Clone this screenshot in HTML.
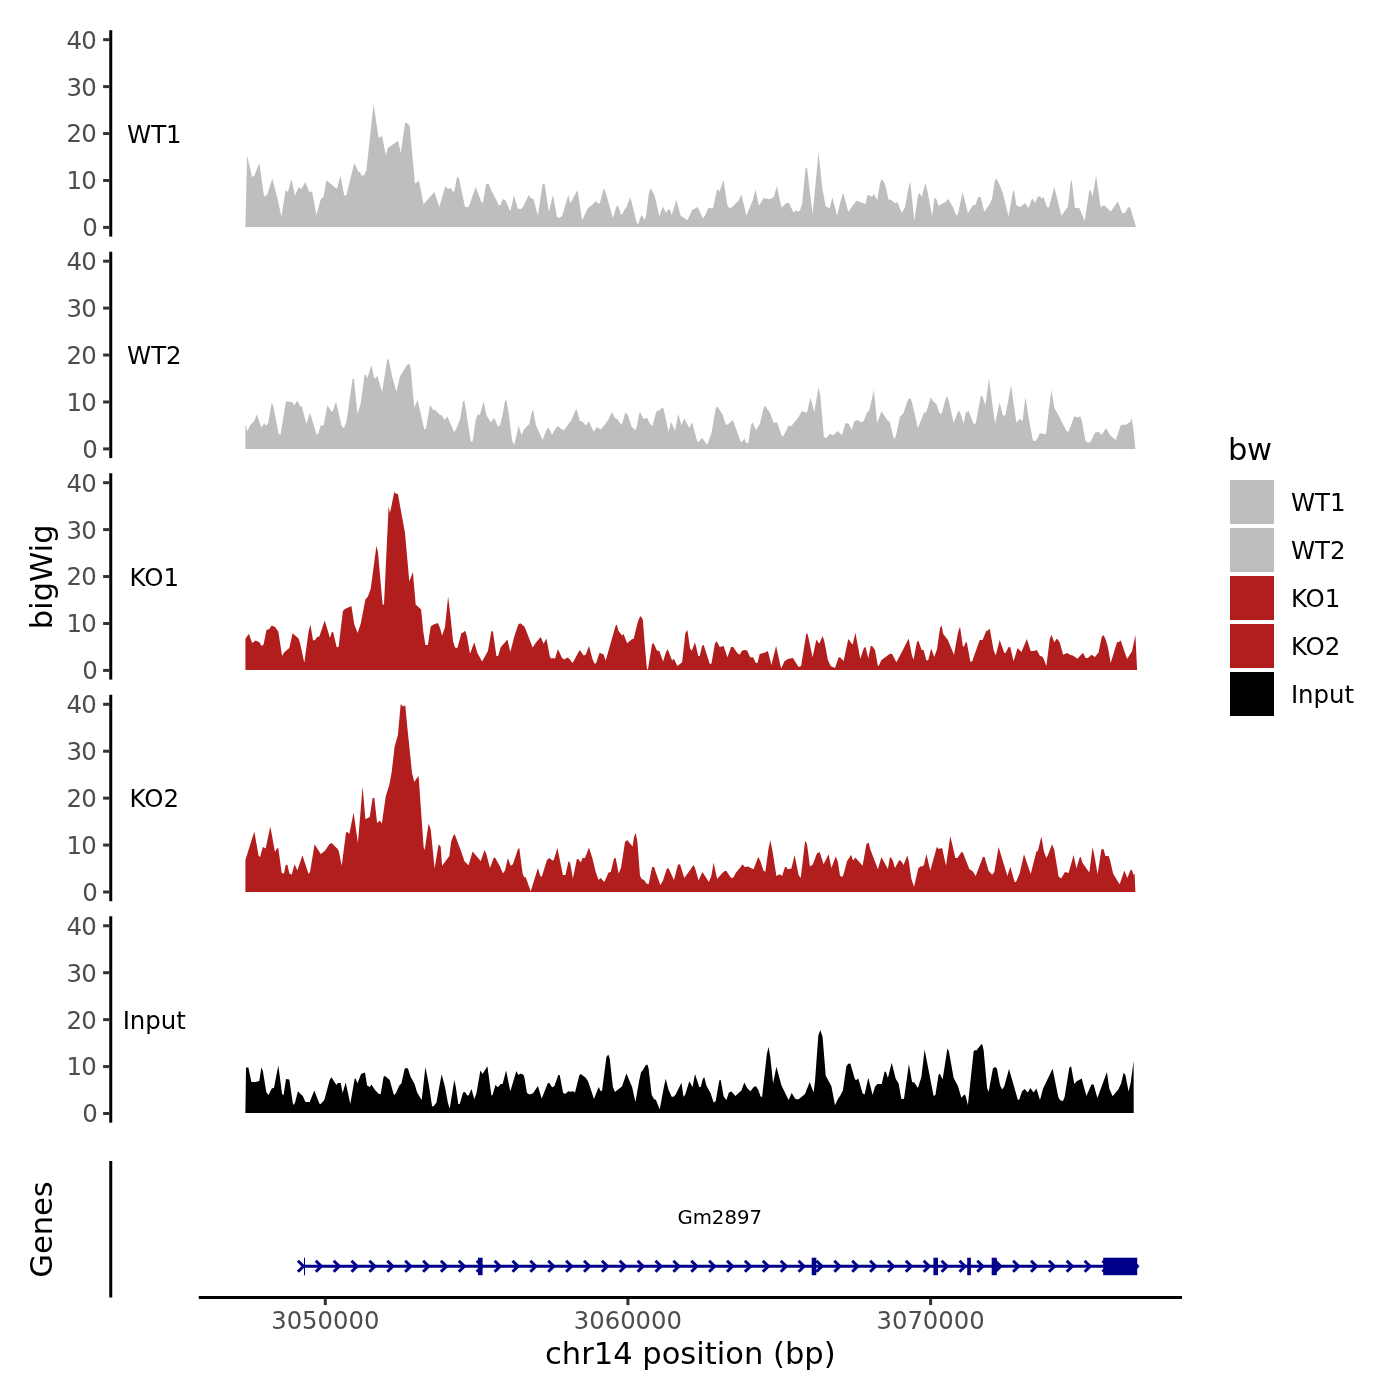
<!DOCTYPE html>
<html lang="en"><head><meta charset="utf-8"><title>bigWig coverage tracks</title>
<style>html,body{margin:0;padding:0;background:#fff}body{width:1400px;height:1400px;overflow:hidden}svg{display:block;will-change:transform;transform:translateZ(0)}text{font-family:'DejaVu Sans','Liberation Sans',sans-serif}</style></head><body>
<svg width="1400" height="1400" viewBox="0 0 1400 1400">
<rect width="1400" height="1400" fill="#fff"/>
<path d="M245.4,226.9 L247.1,155.4 L252.1,177.1 L254.3,175.7 L259.3,162.9 L264.0,196.4 L267.1,195.0 L272.3,178.6 L277.9,200.0 L281.4,217.1 L285.7,190.0 L287.9,192.1 L291.4,178.9 L295.0,195.7 L298.6,187.1 L301.4,188.9 L305.3,182.1 L309.3,192.1 L312.1,191.4 L316.4,215.0 L320.7,199.3 L323.6,196.4 L326.4,180.3 L335.7,187.9 L337.1,188.6 L340.4,175.7 L344.3,195.7 L346.4,195.0 L354.3,162.9 L358.6,172.1 L360.0,171.9 L361.7,175.7 L364.3,175.0 L366.4,170.0 L373.6,103.9 L378.6,137.9 L382.1,136.0 L385.7,155.0 L387.9,147.9 L398.1,140.7 L400.7,152.9 L405.3,122.1 L409.6,125.4 L415.0,183.6 L419.0,181.0 L423.6,204.3 L434.3,192.1 L439.3,207.1 L445.4,186.0 L447.9,188.9 L450.7,187.9 L452.9,191.7 L454.3,191.4 L457.1,176.4 L459.0,178.6 L465.0,206.9 L468.6,206.9 L475.7,187.1 L481.4,202.1 L482.9,202.9 L486.1,184.0 L488.6,184.0 L492.1,192.1 L493.6,194.3 L498.6,205.0 L500.7,205.0 L502.4,199.3 L505.3,200.0 L510.3,211.4 L513.9,195.7 L517.9,208.6 L520.7,209.3 L522.9,207.1 L528.6,195.3 L531.4,198.6 L533.6,199.3 L537.9,215.7 L542.6,183.6 L544.7,184.6 L548.9,212.1 L552.9,195.0 L557.1,217.1 L559.3,217.9 L562.1,216.0 L568.3,195.0 L570.3,203.6 L576.9,191.1 L577.9,192.1 L582.1,220.3 L587.9,207.9 L591.4,205.4 L596.0,201.1 L597.9,203.6 L599.7,203.6 L604.0,187.9 L606.4,195.0 L612.9,217.9 L616.7,206.0 L618.6,206.4 L620.7,214.3 L622.1,214.6 L625.0,208.6 L626.1,208.3 L630.3,197.1 L636.9,223.6 L638.6,223.6 L640.0,217.9 L641.7,215.0 L644.6,220.0 L646.0,215.7 L648.9,192.9 L650.4,188.6 L651.7,190.0 L654.3,195.0 L656.4,202.9 L659.3,216.4 L662.9,206.4 L666.0,212.9 L668.6,209.3 L669.7,209.3 L671.7,215.0 L676.4,200.0 L680.7,215.7 L684.3,217.9 L687.4,220.3 L692.1,210.0 L695.0,208.6 L697.6,206.9 L702.9,218.3 L705.0,215.7 L708.3,207.9 L713.1,208.3 L716.9,190.0 L718.3,189.7 L719.3,192.1 L723.6,180.3 L727.1,204.3 L729.3,208.6 L732.1,207.1 L735.0,204.3 L738.6,200.7 L741.4,194.3 L746.4,215.7 L752.9,200.0 L755.4,189.3 L758.9,205.7 L763.6,197.9 L765.7,198.6 L769.3,199.3 L771.4,198.6 L774.0,196.4 L776.9,186.0 L781.4,207.4 L783.6,205.7 L786.4,203.1 L788.9,202.9 L793.6,212.6 L796.0,210.3 L797.9,211.4 L799.7,211.1 L802.1,204.3 L805.7,167.1 L807.1,168.6 L812.6,214.3 L818.6,152.1 L822.1,187.1 L825.7,206.4 L829.7,208.3 L832.4,197.4 L837.1,215.7 L840.0,203.6 L843.1,192.6 L848.3,211.7 L852.9,205.4 L856.4,200.7 L865.4,204.0 L867.6,195.0 L870.0,195.4 L872.1,196.9 L873.6,194.0 L877.4,200.0 L880.0,182.9 L881.9,178.9 L885.0,184.0 L888.6,199.7 L891.1,199.7 L895.0,203.6 L897.1,201.7 L901.9,212.9 L905.0,207.1 L908.3,188.6 L910.3,182.1 L914.3,220.7 L917.9,195.4 L919.7,193.1 L921.7,196.9 L925.4,183.1 L927.9,192.9 L932.1,216.4 L934.3,198.6 L936.0,198.3 L938.6,206.0 L940.7,204.6 L945.7,201.7 L948.3,198.9 L952.9,207.1 L956.0,215.0 L957.9,214.3 L962.6,192.1 L967.9,212.9 L972.9,205.0 L975.0,205.4 L978.3,197.1 L980.7,197.1 L984.3,211.7 L990.0,203.6 L992.1,198.6 L994.6,181.4 L996.4,178.6 L1000.0,185.7 L1002.9,193.6 L1008.6,216.4 L1012.9,191.7 L1014.0,190.3 L1016.4,205.4 L1020.7,206.9 L1025.0,203.1 L1028.6,207.9 L1032.1,198.3 L1035.0,202.9 L1037.9,196.4 L1040.0,196.4 L1041.7,198.6 L1043.6,197.1 L1046.9,207.1 L1048.9,207.4 L1054.3,186.9 L1061.4,215.7 L1067.9,206.4 L1070.7,181.4 L1071.7,180.0 L1075.0,207.9 L1079.3,207.9 L1084.7,220.7 L1089.3,190.7 L1090.7,190.3 L1092.6,196.4 L1096.1,175.4 L1100.7,207.4 L1104.0,205.0 L1110.7,211.4 L1117.9,201.4 L1122.1,212.9 L1125.0,213.1 L1128.3,207.1 L1130.3,207.9 L1136.0,226.9Z" fill="#BEBEBE"/>
<line x1="110.75" x2="110.75" y1="30.2" y2="236.6" stroke="#000" stroke-width="3"/>
<line x1="103.11" x2="109.35" y1="227.40" y2="227.40" stroke="#333" stroke-width="3"/>
<text x="97.0" y="235.85" font-size="24.44" fill="#4D4D4D" text-anchor="end" letter-spacing="-0.7">0</text>
<line x1="103.11" x2="109.35" y1="180.47" y2="180.47" stroke="#333" stroke-width="3"/>
<text x="96.2" y="188.85" font-size="24.44" fill="#4D4D4D" text-anchor="end" letter-spacing="-0.7">10</text>
<line x1="103.11" x2="109.35" y1="133.54" y2="133.54" stroke="#333" stroke-width="3"/>
<text x="96.2" y="141.85" font-size="24.44" fill="#4D4D4D" text-anchor="end" letter-spacing="-0.7">20</text>
<line x1="103.11" x2="109.35" y1="86.61" y2="86.61" stroke="#333" stroke-width="3"/>
<text x="96.2" y="95.85" font-size="24.44" fill="#4D4D4D" text-anchor="end" letter-spacing="-0.7">30</text>
<line x1="103.11" x2="109.35" y1="39.68" y2="39.68" stroke="#333" stroke-width="3"/>
<text x="96.2" y="48.85" font-size="24.44" fill="#4D4D4D" text-anchor="end" letter-spacing="-0.7">40</text>
<text x="154.3" y="142.60" font-size="24.44" fill="#000" text-anchor="middle">WT1</text>
<path d="M245.4,448.9 L245.4,424.1 L247.4,431.3 L250.3,424.9 L254.0,421.3 L256.9,414.6 L261.4,427.7 L264.3,423.1 L265.7,425.6 L267.9,424.1 L271.7,402.7 L273.1,405.6 L278.6,433.4 L280.4,434.9 L286.0,401.3 L292.6,402.3 L294.0,405.6 L297.4,400.6 L300.3,406.6 L301.7,406.0 L306.4,424.1 L310.0,412.7 L316.4,434.1 L317.9,434.6 L320.7,425.6 L323.6,425.6 L327.4,405.6 L331.4,411.3 L332.6,411.7 L336.0,401.7 L341.7,426.3 L344.0,428.0 L346.4,422.0 L352.6,379.1 L354.0,378.9 L357.4,414.1 L360.7,403.4 L364.6,374.9 L366.0,374.6 L367.4,378.4 L371.4,365.1 L374.3,379.1 L377.4,376.0 L382.1,392.0 L387.1,359.9 L388.6,359.1 L392.1,376.3 L396.4,391.7 L400.0,376.3 L407.4,364.6 L409.6,363.7 L410.7,368.4 L414.3,407.4 L417.6,399.9 L424.3,429.4 L426.0,428.4 L430.0,404.9 L433.6,410.6 L434.6,409.4 L440.0,415.1 L441.4,415.1 L444.6,419.9 L447.4,416.6 L454.0,432.0 L455.7,429.9 L460.0,419.4 L463.1,401.3 L464.3,400.6 L466.0,410.6 L470.7,441.3 L472.6,441.7 L475.7,419.9 L477.9,413.7 L479.7,415.6 L483.6,401.3 L486.4,415.1 L490.7,422.3 L494.3,418.0 L497.9,426.6 L500.0,425.6 L502.4,415.6 L505.0,400.9 L506.4,400.3 L508.3,410.6 L512.1,440.6 L514.3,444.9 L518.6,425.6 L521.4,434.9 L524.3,429.1 L529.3,424.1 L532.1,410.6 L533.1,410.3 L536.0,425.6 L542.6,439.9 L546.4,429.9 L548.6,427.4 L552.1,434.9 L554.3,430.6 L557.9,425.9 L560.7,428.4 L564.0,430.3 L571.4,419.9 L576.4,408.4 L580.0,421.3 L581.7,420.9 L586.0,425.6 L588.9,421.3 L593.6,431.7 L597.1,427.0 L600.7,429.4 L605.7,423.4 L608.6,419.1 L612.1,412.0 L614.6,417.7 L617.1,419.1 L621.7,425.1 L625.4,412.3 L627.9,415.1 L631.4,426.3 L635.0,430.3 L636.4,428.0 L639.3,413.7 L640.0,411.7 L643.6,419.1 L646.9,417.7 L650.7,425.1 L652.6,425.6 L656.4,411.3 L659.3,410.6 L661.4,408.4 L663.3,407.7 L668.6,431.7 L671.1,421.7 L675.0,430.6 L678.3,414.1 L681.4,424.9 L684.3,418.4 L689.3,428.0 L692.1,422.3 L697.1,440.9 L698.6,442.0 L702.1,437.7 L707.1,445.1 L711.4,433.4 L715.7,408.4 L717.4,406.6 L722.1,413.7 L726.0,424.9 L728.3,424.1 L732.9,419.9 L737.1,431.7 L740.7,442.0 L742.1,441.7 L744.3,438.4 L746.4,443.1 L748.3,443.1 L751.1,424.9 L752.6,422.3 L756.0,430.3 L760.0,423.4 L763.1,409.9 L764.7,405.6 L770.0,412.7 L773.6,422.7 L777.1,422.3 L781.4,435.1 L783.1,436.6 L788.6,425.6 L791.1,426.3 L797.9,418.0 L802.1,410.9 L806.9,412.7 L810.4,397.7 L814.3,412.0 L818.6,387.0 L820.3,395.6 L823.9,437.0 L826.4,438.0 L829.7,434.1 L833.6,435.1 L837.9,430.9 L840.0,433.4 L842.1,434.9 L845.4,423.1 L848.9,423.7 L851.7,429.9 L854.3,421.3 L857.9,419.9 L860.7,422.0 L863.6,421.3 L867.1,412.3 L869.3,410.6 L873.9,389.9 L877.1,423.1 L881.4,411.3 L887.9,420.9 L889.7,421.7 L894.0,439.4 L896.0,435.6 L900.0,416.6 L903.1,413.7 L908.3,399.1 L910.7,398.4 L912.6,404.9 L917.9,428.0 L924.3,412.0 L926.0,412.7 L930.7,397.4 L932.9,400.9 L936.4,404.1 L939.3,412.7 L941.7,413.7 L945.7,398.4 L947.4,396.3 L949.3,402.7 L953.6,422.7 L958.6,410.3 L960.7,414.1 L963.6,424.1 L965.7,412.7 L968.6,410.9 L973.6,424.1 L975.7,423.4 L980.7,396.3 L982.1,395.6 L985.4,405.6 L989.0,378.4 L995.0,424.1 L999.6,402.3 L1002.9,415.6 L1005.4,415.6 L1011.0,385.6 L1016.4,422.7 L1019.7,419.1 L1022.6,420.9 L1025.4,397.0 L1028.6,417.4 L1032.9,440.6 L1035.0,441.3 L1037.1,439.1 L1040.0,433.1 L1042.9,434.1 L1046.0,434.1 L1048.9,409.1 L1051.4,389.9 L1054.3,407.7 L1058.6,415.6 L1066.4,430.9 L1068.6,431.7 L1074.3,416.3 L1077.4,417.4 L1080.4,416.3 L1082.1,422.0 L1085.4,440.6 L1087.9,442.7 L1090.7,441.7 L1095.0,432.7 L1098.6,431.7 L1101.7,434.9 L1106.0,428.0 L1110.0,434.9 L1115.7,439.9 L1120.7,425.6 L1122.9,424.6 L1125.7,425.1 L1128.6,422.7 L1130.3,422.3 L1131.7,418.0 L1133.6,430.6 L1135.4,448.9Z" fill="#BEBEBE"/>
<line x1="110.75" x2="110.75" y1="251.7" y2="458.1" stroke="#000" stroke-width="3"/>
<line x1="103.11" x2="109.35" y1="448.90" y2="448.90" stroke="#333" stroke-width="3"/>
<text x="97.0" y="457.85" font-size="24.44" fill="#4D4D4D" text-anchor="end" letter-spacing="-0.7">0</text>
<line x1="103.11" x2="109.35" y1="401.97" y2="401.97" stroke="#333" stroke-width="3"/>
<text x="96.2" y="410.85" font-size="24.44" fill="#4D4D4D" text-anchor="end" letter-spacing="-0.7">10</text>
<line x1="103.11" x2="109.35" y1="355.04" y2="355.04" stroke="#333" stroke-width="3"/>
<text x="96.2" y="363.85" font-size="24.44" fill="#4D4D4D" text-anchor="end" letter-spacing="-0.7">20</text>
<line x1="103.11" x2="109.35" y1="308.11" y2="308.11" stroke="#333" stroke-width="3"/>
<text x="96.2" y="316.85" font-size="24.44" fill="#4D4D4D" text-anchor="end" letter-spacing="-0.7">30</text>
<line x1="103.11" x2="109.35" y1="261.18" y2="261.18" stroke="#333" stroke-width="3"/>
<text x="96.2" y="269.85" font-size="24.44" fill="#4D4D4D" text-anchor="end" letter-spacing="-0.7">40</text>
<text x="154.3" y="364.10" font-size="24.44" fill="#000" text-anchor="middle">WT2</text>
<path d="M245.4,670.1 L245.4,638.7 L248.9,633.7 L252.1,643.0 L255.7,640.6 L259.3,642.3 L261.7,645.9 L263.6,644.4 L266.4,630.1 L269.3,629.0 L271.7,625.4 L275.0,627.0 L278.3,631.6 L282.1,655.9 L284.3,652.3 L289.3,648.0 L292.6,633.3 L298.6,638.4 L300.0,643.0 L304.3,662.7 L308.6,631.6 L310.4,624.4 L313.1,640.4 L315.0,639.9 L317.1,637.0 L319.3,636.6 L324.7,620.4 L330.0,638.0 L331.7,632.3 L333.1,632.0 L336.7,647.3 L338.6,647.0 L342.9,610.9 L345.0,609.0 L351.4,605.9 L354.3,624.4 L357.6,633.0 L360.7,623.7 L365.4,599.4 L367.9,596.6 L370.7,588.7 L376.4,546.1 L377.9,551.6 L382.6,604.4 L384.0,604.4 L388.6,506.6 L390.0,513.0 L394.3,491.9 L396.0,493.7 L397.9,494.1 L405.0,533.0 L409.3,581.6 L412.9,571.9 L415.7,604.4 L421.1,609.4 L423.3,631.6 L425.4,645.1 L427.9,645.1 L430.7,626.6 L433.6,624.4 L437.9,623.0 L440.0,628.0 L442.1,635.6 L445.0,627.3 L448.1,596.6 L450.3,614.4 L453.1,641.6 L455.0,647.6 L457.4,648.0 L461.4,633.3 L463.6,632.3 L465.0,630.4 L466.9,635.9 L470.0,653.7 L474.3,642.3 L477.4,653.0 L482.1,661.6 L487.9,650.9 L491.4,631.3 L492.9,631.3 L496.4,656.1 L498.1,655.9 L500.7,647.3 L507.4,639.4 L510.3,651.9 L514.3,636.6 L518.3,624.4 L520.3,623.3 L524.3,626.6 L525.7,629.4 L532.6,647.6 L536.4,641.9 L540.7,637.0 L543.6,643.7 L546.4,638.4 L550.0,657.3 L551.7,658.4 L553.6,658.0 L555.0,658.7 L557.9,649.0 L562.1,658.0 L564.3,659.4 L567.4,657.6 L569.3,658.7 L572.6,663.0 L579.7,649.9 L583.6,655.6 L585.7,654.7 L589.0,645.9 L592.6,659.4 L594.6,663.7 L596.0,663.3 L599.6,652.7 L603.6,654.4 L605.7,660.4 L615.4,626.6 L616.7,624.4 L618.6,630.9 L622.1,635.6 L623.6,634.1 L627.1,643.3 L632.1,639.0 L633.6,639.0 L637.9,621.6 L640.0,616.6 L641.1,616.6 L642.9,620.1 L645.0,647.3 L646.9,668.7 L647.9,669.4 L652.1,644.1 L653.6,643.3 L656.9,650.4 L659.3,650.9 L663.1,661.6 L665.7,653.0 L667.6,649.0 L672.1,660.4 L673.9,658.7 L677.4,665.9 L682.1,662.3 L685.4,633.0 L687.4,630.1 L690.0,648.0 L691.7,650.9 L695.0,642.3 L698.3,655.9 L699.7,656.1 L702.1,645.9 L703.6,644.7 L709.7,663.7 L711.4,663.7 L715.0,643.3 L716.7,641.3 L719.7,647.0 L723.6,646.1 L727.4,657.3 L731.1,647.0 L733.1,647.0 L737.9,653.7 L740.0,654.4 L741.7,650.9 L744.3,649.9 L747.1,650.4 L750.3,657.6 L753.1,657.3 L755.7,662.7 L757.4,663.3 L759.7,654.1 L765.7,652.3 L767.9,650.9 L771.4,665.1 L776.1,645.9 L781.1,668.4 L784.6,660.9 L788.6,658.7 L792.9,658.0 L798.6,667.0 L801.1,665.9 L806.4,633.0 L807.9,635.1 L812.6,657.3 L816.4,639.4 L819.3,643.7 L822.6,635.9 L824.3,640.9 L827.9,660.1 L830.7,666.1 L835.0,668.0 L838.6,657.6 L840.0,657.3 L843.6,660.9 L848.3,639.0 L852.6,644.7 L855.4,632.7 L860.3,658.7 L863.6,648.7 L865.4,646.6 L868.3,658.4 L870.7,645.9 L872.1,646.1 L875.0,650.1 L877.9,666.1 L878.9,665.6 L881.4,659.9 L890.0,653.7 L892.1,654.1 L896.4,662.3 L902.9,650.1 L908.6,638.4 L912.1,655.9 L913.6,659.4 L916.9,642.3 L918.3,640.4 L921.7,650.1 L923.6,650.1 L926.4,660.4 L928.3,659.9 L931.1,648.4 L934.3,657.0 L937.1,648.7 L940.0,628.0 L941.7,625.6 L943.1,633.7 L947.9,639.9 L954.0,654.7 L957.9,633.0 L960.0,626.6 L962.9,646.6 L964.0,646.6 L965.7,642.3 L966.9,642.7 L970.3,661.6 L972.1,661.6 L979.7,639.9 L982.6,639.9 L986.4,630.4 L987.4,630.9 L989.7,628.4 L993.6,650.1 L995.7,655.6 L999.7,640.1 L1004.3,653.0 L1005.7,652.7 L1008.6,647.0 L1010.3,647.3 L1013.6,661.3 L1017.6,648.0 L1021.4,651.9 L1026.9,639.0 L1030.7,650.9 L1033.6,650.9 L1036.9,649.9 L1040.0,655.9 L1042.1,656.6 L1043.6,658.7 L1046.4,665.9 L1049.7,639.4 L1051.4,634.7 L1054.3,642.3 L1056.9,638.4 L1059.7,642.3 L1063.1,654.7 L1067.1,653.0 L1070.7,655.1 L1072.9,655.6 L1077.4,658.7 L1082.9,652.7 L1085.7,658.0 L1087.9,658.0 L1091.4,654.7 L1095.0,657.0 L1098.6,652.3 L1101.7,637.0 L1103.6,635.1 L1105.7,639.4 L1107.9,647.3 L1110.7,663.0 L1117.1,641.9 L1118.6,642.3 L1120.7,640.4 L1127.1,659.0 L1132.1,650.9 L1135.4,635.1 L1137.1,670.1Z" fill="#B21E1E"/>
<line x1="110.75" x2="110.75" y1="473.2" y2="679.6" stroke="#000" stroke-width="3"/>
<line x1="103.11" x2="109.35" y1="670.40" y2="670.40" stroke="#333" stroke-width="3"/>
<text x="97.0" y="678.85" font-size="24.44" fill="#4D4D4D" text-anchor="end" letter-spacing="-0.7">0</text>
<line x1="103.11" x2="109.35" y1="623.47" y2="623.47" stroke="#333" stroke-width="3"/>
<text x="96.2" y="631.85" font-size="24.44" fill="#4D4D4D" text-anchor="end" letter-spacing="-0.7">10</text>
<line x1="103.11" x2="109.35" y1="576.54" y2="576.54" stroke="#333" stroke-width="3"/>
<text x="96.2" y="584.85" font-size="24.44" fill="#4D4D4D" text-anchor="end" letter-spacing="-0.7">20</text>
<line x1="103.11" x2="109.35" y1="529.61" y2="529.61" stroke="#333" stroke-width="3"/>
<text x="96.2" y="538.85" font-size="24.44" fill="#4D4D4D" text-anchor="end" letter-spacing="-0.7">30</text>
<line x1="103.11" x2="109.35" y1="482.68" y2="482.68" stroke="#333" stroke-width="3"/>
<text x="96.2" y="491.85" font-size="24.44" fill="#4D4D4D" text-anchor="end" letter-spacing="-0.7">40</text>
<text x="154.3" y="585.60" font-size="24.44" fill="#000" text-anchor="middle">KO1</text>
<path d="M245.4,891.9 L245.4,860.0 L254.3,831.4 L258.6,855.7 L260.0,857.1 L262.9,847.1 L265.7,848.6 L270.3,826.4 L275.0,852.1 L276.9,848.6 L278.3,848.1 L281.7,872.9 L284.0,873.6 L285.7,865.0 L287.4,864.7 L289.3,873.3 L291.7,874.7 L294.6,864.3 L297.4,870.4 L302.4,855.3 L308.6,873.9 L310.0,872.1 L314.6,844.3 L320.7,853.9 L325.0,850.7 L329.3,844.3 L331.7,842.9 L337.9,849.3 L338.9,851.4 L341.7,865.7 L346.0,832.4 L347.4,831.9 L349.3,833.9 L353.6,812.4 L357.9,842.9 L362.6,786.4 L365.4,819.3 L369.7,817.1 L372.6,798.1 L374.3,797.9 L377.1,822.9 L379.7,820.4 L381.9,823.6 L385.7,796.4 L389.3,785.0 L391.7,772.1 L394.6,746.4 L397.9,735.0 L400.7,704.3 L403.3,706.4 L405.3,705.3 L407.1,725.0 L412.1,773.6 L414.3,781.9 L416.0,779.3 L418.6,776.1 L423.6,847.1 L424.7,850.0 L428.6,823.6 L430.7,829.3 L434.6,868.6 L438.6,844.3 L440.0,845.7 L440.7,847.1 L442.1,865.7 L449.3,856.1 L451.1,842.1 L452.9,836.4 L454.6,834.0 L461.4,852.1 L464.6,861.4 L468.6,865.3 L472.6,851.4 L480.7,861.0 L484.6,850.0 L486.4,854.3 L490.0,868.1 L493.6,857.9 L495.0,857.6 L500.0,866.4 L502.9,873.6 L505.0,870.4 L507.9,858.1 L510.7,865.7 L512.9,864.3 L517.9,849.3 L519.3,847.9 L522.6,873.3 L524.3,877.6 L525.7,877.1 L530.7,891.4 L537.9,868.1 L540.7,877.1 L542.1,876.1 L546.9,860.0 L549.3,858.1 L552.9,860.7 L554.0,859.3 L557.4,848.1 L562.9,875.0 L565.4,875.0 L568.6,861.0 L570.3,863.6 L572.9,878.6 L576.9,859.0 L578.3,859.0 L580.7,862.4 L582.6,858.1 L585.0,858.1 L589.0,847.6 L592.6,859.0 L595.7,871.9 L598.6,880.0 L600.7,878.1 L604.3,882.1 L608.6,872.4 L610.7,872.1 L614.0,858.6 L615.7,858.1 L618.6,873.6 L621.1,867.6 L625.0,842.1 L627.1,840.0 L632.6,846.4 L634.0,837.1 L635.7,832.9 L637.4,842.1 L640.0,875.7 L641.7,879.0 L644.0,880.0 L646.4,883.6 L648.6,884.3 L652.1,867.1 L654.0,867.1 L660.4,885.3 L662.9,880.7 L666.9,868.6 L668.6,868.6 L674.0,880.0 L677.9,864.7 L680.0,864.3 L684.3,878.1 L687.9,872.9 L693.6,865.0 L695.0,867.9 L698.6,880.4 L702.4,871.9 L708.9,881.9 L711.4,875.7 L713.6,862.4 L717.1,879.0 L722.1,873.3 L725.0,870.7 L726.4,871.0 L730.7,877.6 L733.1,877.9 L735.7,872.9 L740.7,867.1 L742.6,864.3 L744.6,867.1 L748.3,866.4 L750.7,868.1 L753.6,869.3 L758.3,856.7 L760.7,862.1 L763.6,871.0 L765.4,871.4 L768.6,847.9 L770.4,840.3 L772.9,853.6 L776.4,876.1 L779.7,874.3 L782.1,876.1 L785.0,867.1 L786.4,867.1 L787.4,869.3 L791.4,868.6 L794.6,855.0 L798.6,875.0 L800.7,878.1 L805.0,842.1 L805.7,841.1 L807.1,845.0 L810.0,866.4 L812.9,864.3 L816.9,853.6 L819.7,852.1 L823.6,864.3 L828.6,854.3 L831.4,867.9 L835.7,856.4 L837.9,862.1 L840.0,875.7 L842.1,877.1 L843.6,874.3 L846.9,861.4 L851.1,854.7 L853.1,860.4 L855.4,857.6 L862.6,865.7 L866.4,844.3 L868.6,842.4 L870.3,849.3 L877.9,869.3 L881.4,857.1 L887.9,869.0 L890.0,856.7 L892.6,860.0 L895.0,868.1 L899.3,860.0 L901.4,861.4 L903.6,865.0 L907.4,855.3 L908.9,861.9 L911.4,879.0 L914.0,886.7 L918.3,868.6 L920.7,866.1 L921.7,866.7 L924.0,865.0 L926.4,853.9 L930.3,870.4 L936.9,846.7 L938.6,849.0 L942.1,847.9 L946.0,865.7 L950.3,836.1 L955.4,858.1 L957.4,858.1 L961.4,852.1 L962.9,852.4 L969.3,869.0 L972.9,871.4 L975.7,876.1 L982.9,857.1 L984.6,857.1 L988.6,870.7 L992.1,874.7 L994.3,872.1 L998.6,847.1 L1007.4,876.1 L1010.3,866.7 L1014.6,881.9 L1016.0,881.9 L1019.7,873.3 L1024.0,854.3 L1030.7,873.9 L1036.4,851.4 L1037.9,851.0 L1040.0,842.1 L1041.4,836.4 L1044.0,852.1 L1046.4,857.9 L1047.9,855.0 L1052.1,844.3 L1054.3,850.0 L1058.6,876.4 L1061.1,878.6 L1065.0,872.1 L1068.6,872.9 L1073.6,855.0 L1076.4,868.6 L1079.7,857.6 L1080.7,857.1 L1082.6,862.9 L1089.3,872.4 L1092.6,847.1 L1094.0,853.6 L1097.6,874.3 L1101.4,849.3 L1103.6,849.3 L1105.4,856.1 L1108.6,856.1 L1110.0,860.0 L1113.1,873.6 L1115.7,877.9 L1119.7,884.3 L1124.3,870.4 L1127.4,877.9 L1130.7,869.6 L1132.1,870.4 L1133.6,875.0 L1134.6,873.6 L1135.4,891.9Z" fill="#B21E1E"/>
<line x1="110.75" x2="110.75" y1="694.8" y2="901.2" stroke="#000" stroke-width="3"/>
<line x1="103.11" x2="109.35" y1="892.00" y2="892.00" stroke="#333" stroke-width="3"/>
<text x="97.0" y="900.85" font-size="24.44" fill="#4D4D4D" text-anchor="end" letter-spacing="-0.7">0</text>
<line x1="103.11" x2="109.35" y1="845.07" y2="845.07" stroke="#333" stroke-width="3"/>
<text x="96.2" y="853.85" font-size="24.44" fill="#4D4D4D" text-anchor="end" letter-spacing="-0.7">10</text>
<line x1="103.11" x2="109.35" y1="798.14" y2="798.14" stroke="#333" stroke-width="3"/>
<text x="96.2" y="806.85" font-size="24.44" fill="#4D4D4D" text-anchor="end" letter-spacing="-0.7">20</text>
<line x1="103.11" x2="109.35" y1="751.21" y2="751.21" stroke="#333" stroke-width="3"/>
<text x="96.2" y="759.85" font-size="24.44" fill="#4D4D4D" text-anchor="end" letter-spacing="-0.7">30</text>
<line x1="103.11" x2="109.35" y1="704.28" y2="704.28" stroke="#333" stroke-width="3"/>
<text x="96.2" y="712.85" font-size="24.44" fill="#4D4D4D" text-anchor="end" letter-spacing="-0.7">40</text>
<text x="154.3" y="807.20" font-size="24.44" fill="#000" text-anchor="middle">KO2</text>
<path d="M245.4,1113.0 L246.0,1067.7 L248.3,1067.3 L251.4,1082.0 L255.7,1082.0 L259.3,1081.0 L261.4,1067.3 L262.9,1071.3 L266.4,1092.4 L268.6,1094.9 L271.7,1088.4 L274.0,1087.7 L278.3,1065.6 L282.1,1094.1 L283.6,1094.9 L286.0,1079.1 L289.3,1079.6 L293.1,1104.9 L295.0,1102.7 L297.9,1091.3 L302.9,1096.3 L305.4,1102.0 L309.7,1102.0 L314.3,1090.6 L319.3,1103.4 L320.7,1103.9 L324.3,1099.9 L329.7,1079.9 L331.4,1077.3 L336.4,1084.9 L337.9,1083.0 L340.7,1083.0 L342.6,1093.0 L345.7,1082.4 L350.3,1104.1 L354.6,1079.1 L355.7,1078.4 L357.4,1083.4 L361.1,1073.9 L365.0,1072.4 L367.1,1085.6 L370.0,1087.0 L371.4,1084.4 L375.0,1090.1 L378.9,1094.1 L380.7,1093.9 L383.6,1076.7 L385.0,1075.9 L389.7,1079.9 L393.6,1093.9 L394.6,1094.9 L396.4,1092.0 L399.3,1085.6 L401.4,1083.4 L404.6,1069.1 L405.7,1068.0 L407.9,1068.4 L410.7,1077.0 L414.6,1084.1 L417.1,1092.4 L421.7,1100.1 L425.4,1067.0 L428.6,1083.4 L432.1,1106.3 L433.6,1106.3 L436.4,1102.7 L440.0,1082.7 L441.7,1074.4 L445.0,1087.0 L447.9,1102.7 L449.7,1108.7 L454.3,1080.1 L455.7,1086.3 L458.3,1103.9 L459.7,1103.9 L463.1,1092.4 L465.0,1092.0 L467.1,1095.3 L468.6,1095.6 L471.4,1089.1 L474.3,1099.1 L476.4,1093.4 L480.4,1070.6 L482.6,1073.9 L487.4,1066.3 L489.3,1079.9 L491.4,1095.6 L492.6,1094.9 L495.4,1084.9 L497.9,1087.3 L500.7,1084.1 L502.6,1083.9 L506.1,1070.6 L510.3,1091.3 L516.4,1071.0 L518.3,1074.9 L520.7,1073.4 L523.6,1074.9 L524.6,1078.4 L526.9,1092.7 L529.3,1094.4 L532.9,1093.4 L537.9,1085.9 L541.7,1098.4 L547.9,1083.0 L549.3,1083.0 L552.1,1087.3 L554.3,1086.3 L558.3,1074.9 L559.7,1074.9 L563.1,1092.7 L565.0,1093.9 L568.3,1091.3 L570.7,1091.7 L572.9,1091.3 L575.0,1092.4 L579.3,1075.6 L580.7,1074.1 L585.7,1077.7 L587.9,1081.0 L590.0,1087.0 L594.0,1099.1 L598.6,1087.0 L600.7,1091.3 L602.1,1090.6 L606.4,1057.0 L608.3,1054.4 L609.7,1058.4 L612.9,1087.0 L615.0,1092.0 L622.1,1086.3 L626.4,1073.4 L632.1,1087.0 L635.4,1102.0 L639.3,1079.9 L640.0,1077.0 L641.1,1072.0 L642.6,1070.6 L645.7,1065.3 L647.4,1064.4 L648.6,1068.4 L651.7,1094.9 L654.0,1099.1 L656.0,1100.1 L659.7,1109.6 L663.6,1088.4 L665.7,1078.7 L668.6,1089.9 L671.7,1096.7 L673.6,1096.7 L675.7,1094.4 L681.4,1082.7 L683.6,1097.0 L685.4,1094.1 L689.3,1081.3 L692.6,1087.0 L695.0,1073.9 L699.3,1087.0 L700.7,1087.0 L702.9,1078.7 L704.3,1077.3 L706.4,1085.6 L710.7,1093.4 L713.6,1102.4 L715.7,1101.3 L719.3,1080.6 L720.7,1080.1 L723.6,1096.3 L726.4,1099.9 L728.9,1092.4 L731.4,1091.6 L735.4,1095.9 L741.4,1090.6 L744.3,1082.4 L747.1,1088.1 L750.3,1091.3 L754.0,1086.7 L756.0,1086.3 L758.3,1089.9 L760.7,1096.7 L762.1,1096.7 L766.9,1053.4 L768.6,1047.0 L770.3,1057.0 L773.1,1083.4 L776.4,1066.7 L781.4,1085.3 L788.6,1100.1 L791.7,1093.0 L795.0,1098.4 L797.1,1099.6 L799.3,1098.7 L805.0,1094.1 L809.7,1082.0 L813.6,1092.4 L815.0,1081.3 L818.3,1035.6 L820.3,1030.1 L822.6,1037.0 L825.7,1075.6 L831.4,1086.3 L835.0,1105.3 L837.9,1099.1 L840.0,1095.9 L842.9,1090.6 L846.4,1066.3 L848.3,1063.7 L850.3,1063.4 L855.0,1079.6 L856.4,1080.1 L858.3,1078.4 L862.6,1093.4 L864.6,1094.4 L868.3,1077.7 L872.6,1094.9 L875.0,1086.7 L877.4,1083.9 L881.7,1083.9 L884.6,1071.6 L886.0,1072.0 L887.9,1078.1 L891.7,1062.7 L895.7,1078.7 L898.6,1083.4 L901.4,1099.1 L904.0,1098.7 L908.9,1064.1 L912.1,1082.0 L914.3,1082.4 L917.9,1088.1 L921.4,1077.0 L924.6,1049.6 L933.6,1095.9 L935.4,1094.9 L938.6,1074.4 L940.0,1073.9 L942.6,1079.6 L947.4,1048.4 L948.9,1051.3 L953.6,1077.7 L957.9,1085.9 L961.4,1097.7 L964.3,1094.4 L965.4,1095.6 L967.9,1104.9 L973.6,1051.6 L975.0,1049.9 L976.4,1050.6 L980.7,1044.9 L982.1,1043.9 L983.6,1049.9 L987.1,1088.1 L988.6,1092.0 L992.9,1068.4 L995.0,1067.0 L996.9,1068.4 L1000.0,1084.9 L1002.1,1089.6 L1004.3,1086.3 L1009.0,1069.1 L1017.9,1100.1 L1019.3,1099.6 L1022.1,1091.3 L1024.6,1089.1 L1027.9,1092.4 L1030.3,1088.1 L1033.6,1092.4 L1036.4,1088.4 L1040.0,1099.9 L1043.1,1088.4 L1052.6,1068.7 L1058.3,1097.0 L1060.0,1100.1 L1062.9,1101.3 L1064.6,1097.0 L1069.3,1067.7 L1071.1,1066.3 L1074.3,1084.1 L1076.4,1081.6 L1081.7,1078.4 L1086.4,1095.9 L1091.4,1084.4 L1093.6,1084.4 L1097.4,1098.1 L1106.9,1072.0 L1109.3,1088.4 L1112.6,1096.3 L1118.3,1089.6 L1121.1,1083.4 L1123.6,1072.7 L1125.4,1074.9 L1128.6,1091.6 L1130.7,1082.7 L1133.6,1061.0 L1133.7,1113.0Z" fill="#000000"/>
<line x1="110.75" x2="110.75" y1="916.3" y2="1122.7" stroke="#000" stroke-width="3"/>
<line x1="103.11" x2="109.35" y1="1113.50" y2="1113.50" stroke="#333" stroke-width="3"/>
<text x="97.0" y="1121.85" font-size="24.44" fill="#4D4D4D" text-anchor="end" letter-spacing="-0.7">0</text>
<line x1="103.11" x2="109.35" y1="1066.57" y2="1066.57" stroke="#333" stroke-width="3"/>
<text x="96.2" y="1074.85" font-size="24.44" fill="#4D4D4D" text-anchor="end" letter-spacing="-0.7">10</text>
<line x1="103.11" x2="109.35" y1="1019.64" y2="1019.64" stroke="#333" stroke-width="3"/>
<text x="96.2" y="1028.85" font-size="24.44" fill="#4D4D4D" text-anchor="end" letter-spacing="-0.7">20</text>
<line x1="103.11" x2="109.35" y1="972.71" y2="972.71" stroke="#333" stroke-width="3"/>
<text x="96.2" y="981.85" font-size="24.44" fill="#4D4D4D" text-anchor="end" letter-spacing="-0.7">30</text>
<line x1="103.11" x2="109.35" y1="925.78" y2="925.78" stroke="#333" stroke-width="3"/>
<text x="96.2" y="934.85" font-size="24.44" fill="#4D4D4D" text-anchor="end" letter-spacing="-0.7">40</text>
<text x="154.3" y="1028.70" font-size="24.44" fill="#000" text-anchor="middle">Input</text>
<text transform="translate(52,576.8) rotate(-90)" font-size="30.56" fill="#000" text-anchor="middle">bigWig</text>
<text transform="translate(51.8,1229.5) rotate(-90)" font-size="30.56" fill="#000" text-anchor="middle">Genes</text>
<line x1="110.75" x2="110.75" y1="1161" y2="1297.5" stroke="#000" stroke-width="3"/>
<line x1="198.75" x2="1182" y1="1297.5" y2="1297.5" stroke="#000" stroke-width="3"/>
<line x1="325.3" x2="325.3" y1="1298.9" y2="1305.1" stroke="#333" stroke-width="3"/>
<text x="325.3" y="1328.6" font-size="24.3" fill="#4D4D4D" text-anchor="middle">3050000</text>
<line x1="627.9" x2="627.9" y1="1298.9" y2="1305.1" stroke="#333" stroke-width="3"/>
<text x="627.9" y="1328.6" font-size="24.3" fill="#4D4D4D" text-anchor="middle">3060000</text>
<line x1="930.6" x2="930.6" y1="1298.9" y2="1305.1" stroke="#333" stroke-width="3"/>
<text x="930.6" y="1328.6" font-size="24.3" fill="#4D4D4D" text-anchor="middle">3070000</text>
<text x="690.3" y="1363.5" font-size="30.56" fill="#000" text-anchor="middle">chr14 position (bp)</text>
<g stroke="#00008B" fill="none">
<line x1="304.5" x2="1137.2" y1="1266.3" y2="1266.3" stroke-width="3"/>
<path d="M297.9,1260.8 L303.4,1266.3 L297.9,1271.8 M315.8,1260.8 L321.3,1266.3 L315.8,1271.8 M333.7,1260.8 L339.2,1266.3 L333.7,1271.8 M351.5,1260.8 L357.0,1266.3 L351.5,1271.8 M369.4,1260.8 L374.9,1266.3 L369.4,1271.8 M387.3,1260.8 L392.8,1266.3 L387.3,1271.8 M405.2,1260.8 L410.7,1266.3 L405.2,1271.8 M423.1,1260.8 L428.6,1266.3 L423.1,1271.8 M440.9,1260.8 L446.4,1266.3 L440.9,1271.8 M458.8,1260.8 L464.3,1266.3 L458.8,1271.8 M476.7,1260.8 L482.2,1266.3 L476.7,1271.8 M494.6,1260.8 L500.1,1266.3 L494.6,1271.8 M512.5,1260.8 L518.0,1266.3 L512.5,1271.8 M530.3,1260.8 L535.8,1266.3 L530.3,1271.8 M548.2,1260.8 L553.7,1266.3 L548.2,1271.8 M566.1,1260.8 L571.6,1266.3 L566.1,1271.8 M584.0,1260.8 L589.5,1266.3 L584.0,1271.8 M601.9,1260.8 L607.4,1266.3 L601.9,1271.8 M619.7,1260.8 L625.2,1266.3 L619.7,1271.8 M637.6,1260.8 L643.1,1266.3 L637.6,1271.8 M655.5,1260.8 L661.0,1266.3 L655.5,1271.8 M673.4,1260.8 L678.9,1266.3 L673.4,1271.8 M691.3,1260.8 L696.8,1266.3 L691.3,1271.8 M709.1,1260.8 L714.6,1266.3 L709.1,1271.8 M727.0,1260.8 L732.5,1266.3 L727.0,1271.8 M744.9,1260.8 L750.4,1266.3 L744.9,1271.8 M762.8,1260.8 L768.3,1266.3 L762.8,1271.8 M780.7,1260.8 L786.2,1266.3 L780.7,1271.8 M798.5,1260.8 L804.0,1266.3 L798.5,1271.8 M816.4,1260.8 L821.9,1266.3 L816.4,1271.8 M834.3,1260.8 L839.8,1266.3 L834.3,1271.8 M852.2,1260.8 L857.7,1266.3 L852.2,1271.8 M870.1,1260.8 L875.6,1266.3 L870.1,1271.8 M887.9,1260.8 L893.4,1266.3 L887.9,1271.8 M905.8,1260.8 L911.3,1266.3 L905.8,1271.8 M923.7,1260.8 L929.2,1266.3 L923.7,1271.8 M941.6,1260.8 L947.1,1266.3 L941.6,1271.8 M959.5,1260.8 L965.0,1266.3 L959.5,1271.8 M977.3,1260.8 L982.8,1266.3 L977.3,1271.8 M995.2,1260.8 L1000.7,1266.3 L995.2,1271.8 M1013.1,1260.8 L1018.6,1266.3 L1013.1,1271.8 M1031.0,1260.8 L1036.5,1266.3 L1031.0,1271.8 M1048.9,1260.8 L1054.4,1266.3 L1048.9,1271.8 M1066.7,1260.8 L1072.2,1266.3 L1066.7,1271.8 M1084.6,1260.8 L1090.1,1266.3 L1084.6,1271.8 M1102.5,1260.8 L1108.0,1266.3 L1102.5,1271.8 M1120.4,1260.8 L1125.9,1266.3 L1120.4,1271.8 M1132.0,1260.8 L1137.5,1266.3 L1132.0,1271.8" stroke-width="3" stroke-linecap="butt" stroke-linejoin="miter"/>
</g>
<rect x="304.0" y="1257.7" width="1.0" height="17.5" fill="#00008B"/>
<rect x="478.0" y="1257.7" width="4.6" height="17.5" fill="#00008B"/>
<rect x="811.7" y="1257.7" width="4.6" height="17.5" fill="#00008B"/>
<rect x="933.4" y="1257.7" width="4.6" height="17.5" fill="#00008B"/>
<rect x="967.2" y="1257.7" width="3.7" height="17.5" fill="#00008B"/>
<rect x="991.7" y="1257.7" width="5.1" height="17.5" fill="#00008B"/>
<rect x="1103.2" y="1257.7" width="34.0" height="17.5" fill="#00008B"/>
<text x="719.7" y="1223.7" font-size="19.7" fill="#000" text-anchor="middle">Gm2897</text>
<text x="1228.1" y="460.3" font-size="30.56" fill="#000" letter-spacing="-0.6">bw</text>
<rect x="1230" y="480" width="44" height="44" fill="#BEBEBE"/>
<text x="1290.9" y="510.8" font-size="24.44" fill="#000">WT1</text>
<rect x="1230" y="528" width="44" height="44" fill="#BEBEBE"/>
<text x="1290.9" y="558.8" font-size="24.44" fill="#000">WT2</text>
<rect x="1230" y="576" width="44" height="44" fill="#B21E1E"/>
<text x="1290.9" y="606.8" font-size="24.44" fill="#000">KO1</text>
<rect x="1230" y="624" width="44" height="44" fill="#B21E1E"/>
<text x="1290.9" y="654.8" font-size="24.44" fill="#000">KO2</text>
<rect x="1230" y="672" width="44" height="44" fill="#000"/>
<text x="1290.9" y="702.8" font-size="24.44" fill="#000">Input</text>
</svg></body></html>
